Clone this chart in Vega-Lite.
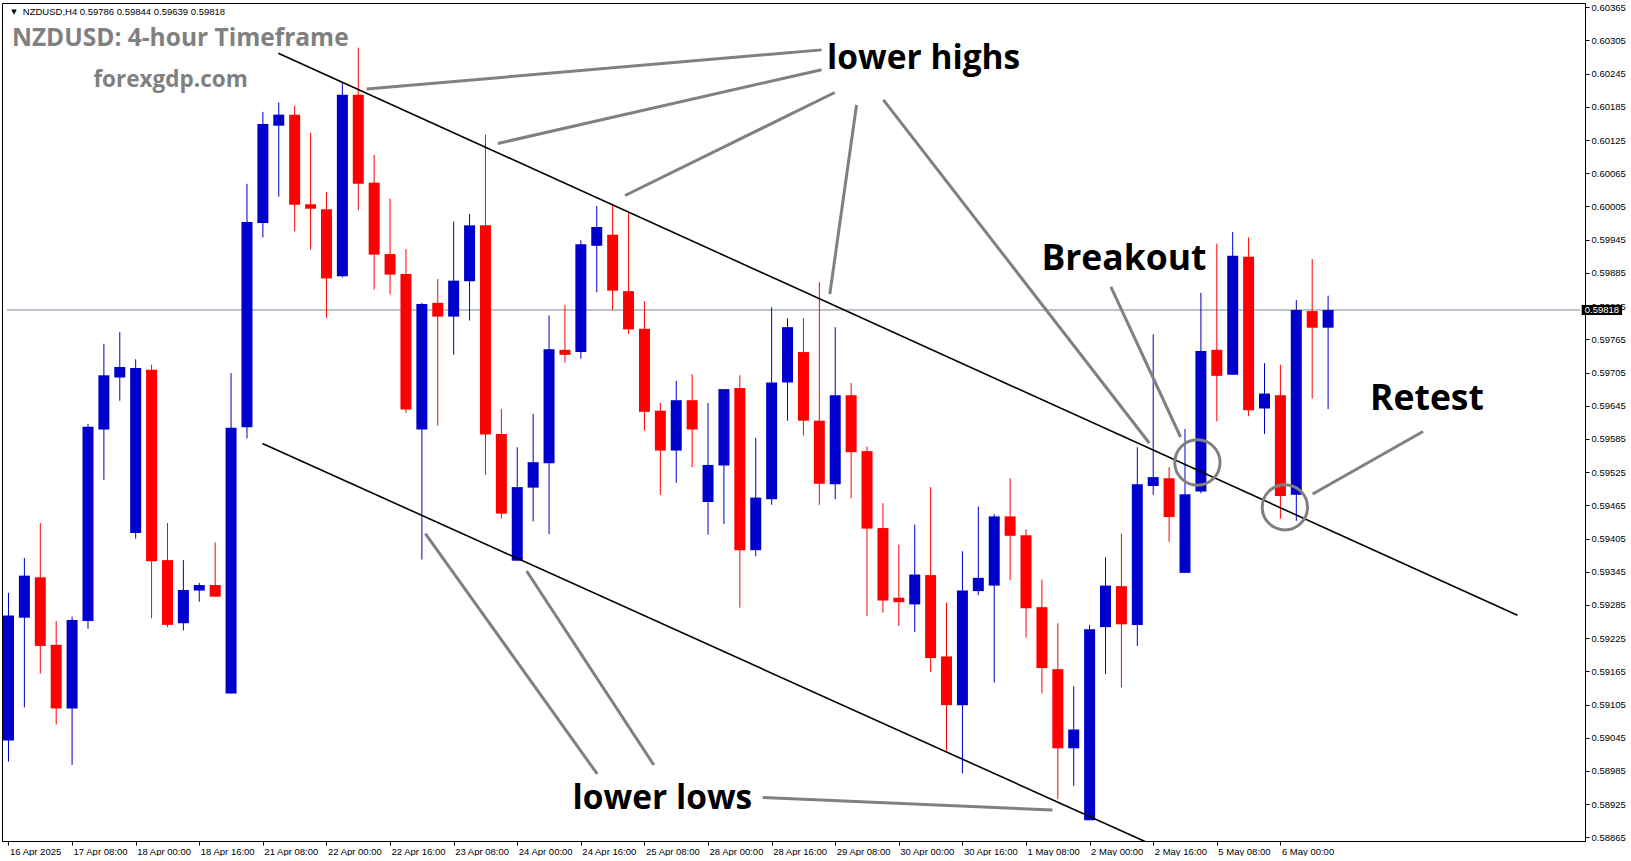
{
  "$schema": "https://vega.github.io/schema/vega-lite/v6.json",
  "width": 1583,
  "height": 838,
  "padding": {"left": 2, "top": 2, "right": 0, "bottom": 0},
  "background": "white",
  "config": {
    "view": {"stroke": "black", "strokeWidth": 1},
    "axis": {"labelFont": "Liberation Sans", "labelFontSize": 9.5, "labelColor": "black", "domainColor": "black", "tickColor": "black", "grid": false, "title": null, "labelFlush": false, "labelOverlap": false, "labelBound": false}
  },
  "datasets": {
    "candles": [
      {"i":0,"o":0.59040,"h":0.59307,"l":0.59002,"c":0.59266},
      {"i":1,"o":0.59262,"h":0.59370,"l":0.59100,"c":0.59338},
      {"i":2,"o":0.59335,"h":0.59433,"l":0.59161,"c":0.59211},
      {"i":3,"o":0.59213,"h":0.59256,"l":0.59069,"c":0.59098},
      {"i":4,"o":0.59098,"h":0.59264,"l":0.58996,"c":0.59258},
      {"i":5,"o":0.59256,"h":0.59612,"l":0.59242,"c":0.59607},
      {"i":6,"o":0.59602,"h":0.59757,"l":0.59511,"c":0.59700},
      {"i":7,"o":0.59696,"h":0.59778,"l":0.59654,"c":0.59715},
      {"i":8,"o":0.59415,"h":0.59729,"l":0.59405,"c":0.59713},
      {"i":9,"o":0.59710,"h":0.59719,"l":0.59261,"c":0.59364},
      {"i":10,"o":0.59366,"h":0.59433,"l":0.59245,"c":0.59249},
      {"i":11,"o":0.59252,"h":0.59366,"l":0.59239,"c":0.59312},
      {"i":12,"o":0.59311,"h":0.59325,"l":0.59291,"c":0.59321},
      {"i":13,"o":0.59321,"h":0.59398,"l":0.59300,"c":0.59300},
      {"i":14,"o":0.59125,"h":0.59704,"l":0.59125,"c":0.59605},
      {"i":15,"o":0.59606,"h":0.60046,"l":0.59586,"c":0.59977},
      {"i":16,"o":0.59975,"h":0.60176,"l":0.59949,"c":0.60154},
      {"i":17,"o":0.60151,"h":0.60193,"l":0.60023,"c":0.60171},
      {"i":18,"o":0.60171,"h":0.60187,"l":0.59960,"c":0.60008},
      {"i":19,"o":0.60009,"h":0.60138,"l":0.59927,"c":0.60001},
      {"i":20,"o":0.60000,"h":0.60031,"l":0.59804,"c":0.59875},
      {"i":21,"o":0.59879,"h":0.60230,"l":0.59877,"c":0.60207},
      {"i":22,"o":0.60207,"h":0.60292,"l":0.59998,"c":0.60046},
      {"i":23,"o":0.60048,"h":0.60098,"l":0.59855,"c":0.59918},
      {"i":24,"o":0.59919,"h":0.60019,"l":0.59846,"c":0.59882},
      {"i":25,"o":0.59883,"h":0.59928,"l":0.59632,"c":0.59638},
      {"i":26,"o":0.59602,"h":0.59831,"l":0.59367,"c":0.59829},
      {"i":27,"o":0.59831,"h":0.59874,"l":0.59609,"c":0.59806},
      {"i":28,"o":0.59806,"h":0.59978,"l":0.59737,"c":0.59871},
      {"i":29,"o":0.59870,"h":0.59992,"l":0.59799,"c":0.59971},
      {"i":30,"o":0.59971,"h":0.60135,"l":0.59520,"c":0.59593},
      {"i":31,"o":0.59594,"h":0.59639,"l":0.59441,"c":0.59450},
      {"i":32,"o":0.59365,"h":0.59570,"l":0.59365,"c":0.59498},
      {"i":33,"o":0.59497,"h":0.59630,"l":0.59436,"c":0.59543},
      {"i":34,"o":0.59541,"h":0.59808,"l":0.59413,"c":0.59747},
      {"i":35,"o":0.59746,"h":0.59827,"l":0.59723,"c":0.59737},
      {"i":36,"o":0.59742,"h":0.59944,"l":0.59730,"c":0.59937},
      {"i":37,"o":0.59934,"h":0.60006,"l":0.59850,"c":0.59968},
      {"i":38,"o":0.59954,"h":0.60010,"l":0.59818,"c":0.59853},
      {"i":39,"o":0.59852,"h":0.59994,"l":0.59775,"c":0.59783},
      {"i":40,"o":0.59784,"h":0.59834,"l":0.59600,"c":0.59634},
      {"i":41,"o":0.59636,"h":0.59650,"l":0.59484,"c":0.59564},
      {"i":42,"o":0.59564,"h":0.59690,"l":0.59506,"c":0.59655},
      {"i":43,"o":0.59655,"h":0.59702,"l":0.59534,"c":0.59602},
      {"i":44,"o":0.59471,"h":0.59650,"l":0.59412,"c":0.59538},
      {"i":45,"o":0.59537,"h":0.59675,"l":0.59431,"c":0.59675},
      {"i":46,"o":0.59677,"h":0.59700,"l":0.59280,"c":0.59384},
      {"i":47,"o":0.59384,"h":0.59587,"l":0.59373,"c":0.59479},
      {"i":48,"o":0.59476,"h":0.59823,"l":0.59466,"c":0.59687},
      {"i":49,"o":0.59687,"h":0.59803,"l":0.59618,"c":0.59787},
      {"i":50,"o":0.59742,"h":0.59803,"l":0.59591,"c":0.59618},
      {"i":51,"o":0.59618,"h":0.59868,"l":0.59466,"c":0.59504},
      {"i":52,"o":0.59503,"h":0.59787,"l":0.59476,"c":0.59664},
      {"i":53,"o":0.59664,"h":0.59686,"l":0.59478,"c":0.59561},
      {"i":54,"o":0.59563,"h":0.59571,"l":0.59265,"c":0.59423},
      {"i":55,"o":0.59424,"h":0.59469,"l":0.59271,"c":0.59293},
      {"i":56,"o":0.59298,"h":0.59394,"l":0.59247,"c":0.59290},
      {"i":57,"o":0.59286,"h":0.59430,"l":0.59236,"c":0.59340},
      {"i":58,"o":0.59339,"h":0.59498,"l":0.59164,"c":0.59189},
      {"i":59,"o":0.59192,"h":0.59289,"l":0.59022,"c":0.59104},
      {"i":60,"o":0.59104,"h":0.59382,"l":0.58981,"c":0.59311},
      {"i":61,"o":0.59310,"h":0.59463,"l":0.59303,"c":0.59334},
      {"i":62,"o":0.59320,"h":0.59449,"l":0.59145,"c":0.59445},
      {"i":63,"o":0.59445,"h":0.59514,"l":0.59330,"c":0.59410},
      {"i":64,"o":0.59411,"h":0.59422,"l":0.59226,"c":0.59279},
      {"i":65,"o":0.59281,"h":0.59331,"l":0.59125,"c":0.59171},
      {"i":66,"o":0.59169,"h":0.59252,"l":0.58934,"c":0.59026},
      {"i":67,"o":0.59026,"h":0.59138,"l":0.58958,"c":0.59060},
      {"i":68,"o":0.58896,"h":0.59249,"l":0.58896,"c":0.59241},
      {"i":69,"o":0.59245,"h":0.59371,"l":0.59160,"c":0.59320},
      {"i":70,"o":0.59319,"h":0.59414,"l":0.59136,"c":0.59250},
      {"i":71,"o":0.59249,"h":0.59570,"l":0.59211,"c":0.59503},
      {"i":72,"o":0.59500,"h":0.59774,"l":0.59484,"c":0.59516},
      {"i":73,"o":0.59514,"h":0.59534,"l":0.59399,"c":0.59444},
      {"i":74,"o":0.59343,"h":0.59603,"l":0.59343,"c":0.59485},
      {"i":75,"o":0.59490,"h":0.59849,"l":0.59487,"c":0.59744},
      {"i":76,"o":0.59746,"h":0.59938,"l":0.59617,"c":0.59699},
      {"i":77,"o":0.59701,"h":0.59959,"l":0.59701,"c":0.59916},
      {"i":78,"o":0.59914,"h":0.59949,"l":0.59626,"c":0.59637},
      {"i":79,"o":0.59640,"h":0.59722,"l":0.59594,"c":0.59667},
      {"i":80,"o":0.59664,"h":0.59719,"l":0.59441,"c":0.59482},
      {"i":81,"o":0.59484,"h":0.59836,"l":0.59437,"c":0.59818},
      {"i":82,"o":0.59816,"h":0.59910,"l":0.59658,"c":0.59786},
      {"i":83,"o":0.59786,"h":0.59844,"l":0.59639,"c":0.59818}
    ],
    "trend": [
      {"x":16.97,"y":0.602819,"x2":94.91,"y2":0.592663},
      {"x":15.97,"y":0.595768,"x2":72.28,"y2":0.588473}
    ],
    "pointers": [
      {"x":51.14,"y":0.60288,"x2":22.53,"y2":0.602173},
      {"x":51.14,"y":0.602522,"x2":30.78,"y2":0.601189},
      {"x":51.97,"y":0.60211,"x2":38.78,"y2":0.600249},
      {"x":53.34,"y":0.601884,"x2":51.66,"y2":0.598469},
      {"x":55.03,"y":0.601978,"x2":71.75,"y2":0.595777},
      {"x":69.34,"y":0.598596,"x2":73.72,"y2":0.595885},
      {"x":88.97,"y":0.595984,"x2":82.03,"y2":0.594855},
      {"x":37.03,"y":0.589796,"x2":26.22,"y2":0.594141},
      {"x":40.59,"y":0.589958,"x2":32.59,"y2":0.593464},
      {"x":47.44,"y":0.589369,"x2":65.66,"y2":0.589145}
    ],
    "circles": [
      {"x":74.78,"y":0.595424},
      {"x":80.28,"y":0.594615}
    ],
    "lowerLabels": [
      {"t":"lower highs","x":57.56,"y":0.602535},
      {"t":"lower lows","x":41.13,"y":0.589163}
    ],
    "breakLabels": [
      {"t":"Breakout","x":70.16,"y":0.598903},
      {"t":"Retest","x":89.22,"y":0.596368}
    ],
    "titles": [
      {"t":"NZDUSD: 4-hour Timeframe","x":0.22,"y":0.60295},
      {"t":"forexgdp.com","x":5.34,"y":0.60221}
    ],
    "header": [
      {"t":"NZDUSD,H4  0.59786 0.59844 0.59639 0.59818","x":0.9,"y":0.603511}
    ],
    "marker": [
      {"t":"▼","x":0.34,"y":0.603565}
    ],
    "bid": [
      {"x":-0.09375,"x2":98.84375,"y":0.59818,"t":"0.59818","bx":98.95,"bx2":101.49,"by":0.59809,"by2":0.59827,"tx":99.14}
    ]
  },
  "layer": [
    {
      "data": {"name": "bid"},
      "mark": {"type": "rule", "color": "#778899", "strokeWidth": 1},
      "encoding": {
        "x": {"field": "x", "type": "quantitative", "scale": {"domain": [-0.09375, 98.84375], "nice": false, "zero": false},
          "axis": {"orient": "bottom", "title": null, "values": [0,4,8,12,16,20,24,28,32,36,40,44,48,52,56,60,64,68,72,76,80], "tickCount": 60,
            "labelExpr": "['16 Apr 2025','17 Apr 08:00','18 Apr 00:00','18 Apr 16:00','21 Apr 08:00','22 Apr 00:00','22 Apr 16:00','23 Apr 08:00','24 Apr 00:00','24 Apr 16:00','25 Apr 08:00','28 Apr 00:00','28 Apr 16:00','29 Apr 08:00','30 Apr 00:00','30 Apr 16:00','1 May 08:00','2 May 00:00','2 May 16:00','5 May 08:00','6 May 00:00'][round(datum.value/4)]",
            "labelAlign": "left", "labelOffset": 1, "labelPadding": 1, "tickSize": 4, "labelBaseline": "top", "labelOverlap": false, "labelFlush": false, "labelBound": false}},
        "x2": {"field": "x2"},
        "y": {"field": "y", "type": "quantitative", "scale": {"domain": [0.588585, 0.603727], "nice": false, "zero": false},
          "axis": {"orient": "right", "title": null, "values": [0.58865,0.58925,0.58985,0.59045,0.59105,0.59165,0.59225,0.59285,0.59345,0.59405,0.59465,0.59525,0.59585,0.59645,0.59705,0.59765,0.59825,0.59885,0.59945,0.60005,0.60065,0.60125,0.60185,0.60245,0.60305,0.60365], "tickCount": 60,
            "format": ".5f", "tickSize": 4, "labelPadding": 2, "labelAlign": "left", "labelBaseline": "middle", "labelOverlap": false, "labelFlush": false, "labelBound": false}}
      }
    },
    {
      "data": {"name": "candles"},
      "mark": {"type": "rule", "strokeWidth": 1, "clip": true},
      "encoding": {
        "x": {"field": "i", "type": "quantitative", "scale": {"domain": [-0.09375, 98.84375], "nice": false, "zero": false}},
        "y": {"field": "l", "type": "quantitative", "scale": {"domain": [0.588585, 0.603727], "nice": false, "zero": false}},
        "y2": {"field": "h"},
        "color": {"condition": {"test": "datum.c > datum.o", "value": "#0000CC"}, "value": "#FF0000"}
      }
    },
    {
      "data": {"name": "candles"},
      "mark": {"type": "bar", "width": 11, "clip": true, "orient": "vertical"},
      "encoding": {
        "x": {"field": "i", "type": "quantitative", "scale": {"domain": [-0.09375, 98.84375], "nice": false, "zero": false}},
        "y": {"field": "o", "type": "quantitative", "scale": {"domain": [0.588585, 0.603727], "nice": false, "zero": false}},
        "y2": {"field": "c"},
        "color": {"condition": {"test": "datum.c > datum.o", "value": "#0000CC"}, "value": "#FF0000"}
      }
    },
    {
      "data": {"name": "trend"},
      "mark": {"type": "rule", "color": "black", "strokeWidth": 1.6, "clip": true},
      "encoding": {
        "x": {"field": "x", "type": "quantitative", "scale": {"domain": [-0.09375, 98.84375], "nice": false, "zero": false}},
        "x2": {"field": "x2"},
        "y": {"field": "y", "type": "quantitative", "scale": {"domain": [0.588585, 0.603727], "nice": false, "zero": false}},
        "y2": {"field": "y2"}
      }
    },
    {
      "data": {"name": "pointers"},
      "mark": {"type": "rule", "color": "#808080", "strokeWidth": 3, "clip": true},
      "encoding": {
        "x": {"field": "x", "type": "quantitative", "scale": {"domain": [-0.09375, 98.84375], "nice": false, "zero": false}},
        "x2": {"field": "x2"},
        "y": {"field": "y", "type": "quantitative", "scale": {"domain": [0.588585, 0.603727], "nice": false, "zero": false}},
        "y2": {"field": "y2"}
      }
    },
    {
      "data": {"name": "circles"},
      "mark": {"type": "point", "shape": "circle", "filled": false, "size": 2050, "stroke": "#808080", "strokeWidth": 3, "opacity": 1},
      "encoding": {
        "x": {"field": "x", "type": "quantitative", "scale": {"domain": [-0.09375, 98.84375], "nice": false, "zero": false}},
        "y": {"field": "y", "type": "quantitative", "scale": {"domain": [0.588585, 0.603727], "nice": false, "zero": false}}
      }
    },
    {
      "data": {"name": "lowerLabels"},
      "mark": {"type": "text", "font": "Open Sans", "fontWeight": 700, "fontSize": 33.5, "color": "black", "align": "center", "baseline": "alphabetic"},
      "encoding": {
        "x": {"field": "x", "type": "quantitative", "scale": {"domain": [-0.09375, 98.84375], "nice": false, "zero": false}},
        "y": {"field": "y", "type": "quantitative", "scale": {"domain": [0.588585, 0.603727], "nice": false, "zero": false}},
        "text": {"field": "t"}
      }
    },
    {
      "data": {"name": "breakLabels"},
      "mark": {"type": "text", "font": "Open Sans", "fontWeight": 700, "fontSize": 35.5, "color": "black", "align": "center", "baseline": "alphabetic"},
      "encoding": {
        "x": {"field": "x", "type": "quantitative", "scale": {"domain": [-0.09375, 98.84375], "nice": false, "zero": false}},
        "y": {"field": "y", "type": "quantitative", "scale": {"domain": [0.588585, 0.603727], "nice": false, "zero": false}},
        "text": {"field": "t"}
      }
    },
    {
      "data": {"name": "titles"},
      "transform": [{"filter": "datum.t == 'NZDUSD: 4-hour Timeframe'"}],
      "mark": {"type": "text", "font": "Open Sans", "fontWeight": 700, "fontSize": 24.5, "color": "#808080", "align": "left", "baseline": "alphabetic"},
      "encoding": {
        "x": {"field": "x", "type": "quantitative", "scale": {"domain": [-0.09375, 98.84375], "nice": false, "zero": false}},
        "y": {"field": "y", "type": "quantitative", "scale": {"domain": [0.588585, 0.603727], "nice": false, "zero": false}},
        "text": {"field": "t"}
      }
    },
    {
      "data": {"name": "titles"},
      "transform": [{"filter": "datum.t == 'forexgdp.com'"}],
      "mark": {"type": "text", "font": "Open Sans", "fontWeight": 700, "fontSize": 22.5, "color": "#808080", "align": "left", "baseline": "alphabetic"},
      "encoding": {
        "x": {"field": "x", "type": "quantitative", "scale": {"domain": [-0.09375, 98.84375], "nice": false, "zero": false}},
        "y": {"field": "y", "type": "quantitative", "scale": {"domain": [0.588585, 0.603727], "nice": false, "zero": false}},
        "text": {"field": "t"}
      }
    },
    {
      "data": {"name": "header"},
      "mark": {"type": "text", "font": "Liberation Sans", "fontSize": 9.5, "color": "black", "align": "left", "baseline": "alphabetic"},
      "encoding": {
        "x": {"field": "x", "type": "quantitative", "scale": {"domain": [-0.09375, 98.84375], "nice": false, "zero": false}},
        "y": {"field": "y", "type": "quantitative", "scale": {"domain": [0.588585, 0.603727], "nice": false, "zero": false}},
        "text": {"field": "t"}
      }
    },
    {
      "data": {"name": "marker"},
      "mark": {"type": "text", "font": "DejaVu Sans", "fontSize": 7, "color": "black", "align": "center", "baseline": "middle"},
      "encoding": {
        "x": {"field": "x", "type": "quantitative", "scale": {"domain": [-0.09375, 98.84375], "nice": false, "zero": false}},
        "y": {"field": "y", "type": "quantitative", "scale": {"domain": [0.588585, 0.603727], "nice": false, "zero": false}},
        "text": {"field": "t"}
      }
    },
    {
      "data": {"name": "bid"},
      "mark": {"type": "rect", "color": "black"},
      "encoding": {
        "x": {"field": "bx", "type": "quantitative", "scale": {"domain": [-0.09375, 98.84375], "nice": false, "zero": false}},
        "x2": {"field": "bx2"},
        "y": {"field": "by", "type": "quantitative", "scale": {"domain": [0.588585, 0.603727], "nice": false, "zero": false}},
        "y2": {"field": "by2"}
      }
    },
    {
      "data": {"name": "bid"},
      "mark": {"type": "text", "font": "Liberation Sans", "fontSize": 9.5, "color": "white", "align": "left", "baseline": "middle"},
      "encoding": {
        "x": {"field": "tx", "type": "quantitative", "scale": {"domain": [-0.09375, 98.84375], "nice": false, "zero": false}},
        "y": {"field": "y", "type": "quantitative", "scale": {"domain": [0.588585, 0.603727], "nice": false, "zero": false}},
        "text": {"field": "t"}
      }
    }
  ]
}
